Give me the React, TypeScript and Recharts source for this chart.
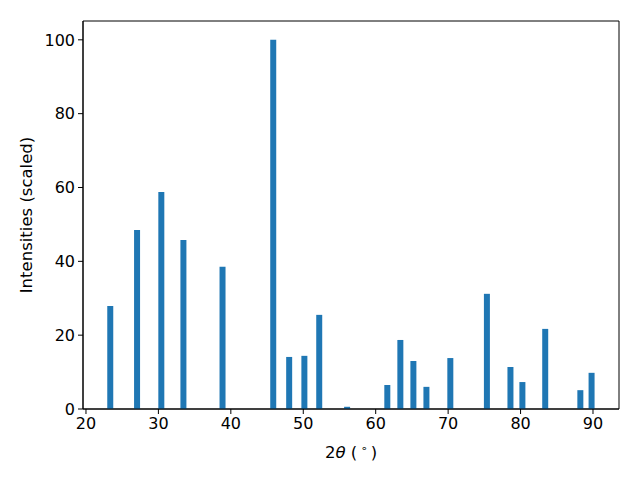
import { Bar, BarChart, ReferenceArea, XAxis, YAxis, Label } from 'recharts'

// peak positions (2θ, degrees) and scaled intensities
const twoTheta = [
  23.3, 27.0, 30.35, 33.4, 38.8, 45.8, 48.0, 50.1, 52.15, 56.0, 61.55, 63.35, 65.15, 66.95,
  70.25, 75.3, 78.55, 80.2, 83.35, 88.2, 89.75,
]
const intensity = [
  27.9, 48.5, 58.8, 45.8, 38.5, 100, 14.1, 14.4, 25.5, 0.6, 6.5, 18.7, 13.0, 6.0, 13.8, 31.2,
  11.4, 7.3, 21.7, 5.1, 9.8,
]
const xTicks = [20, 30, 40, 50, 60, 70, 80, 90]
const yTicks = [0, 20, 40, 60, 80, 100]

const X_DOMAIN: [number, number] = [19.59, 93.59]
const Y_DOMAIN: [number, number] = [0, 105.1]

const font = 'DejaVu Sans, sans-serif'
const tickStyle = { fontSize: 16, fill: '#000', fontFamily: font }

function XLabel({ viewBox }: any) {
  const cx = viewBox.x + viewBox.width / 2
  return (
    <text x={cx} y={458} textAnchor="middle" fontSize={16.5} fontFamily={font} fill="#000">
      2<tspan fontStyle="italic">θ</tspan> ({'\u2009'}
      <tspan dy={-6} fontSize={11}>∘</tspan>
      <tspan dy={6}>{'\u2009'})</tspan>
    </text>
  )
}

function YLabel({ viewBox }: any) {
  const cy = viewBox.y + viewBox.height / 2
  return (
    <text
      x={32}
      y={cy}
      transform={`rotate(-90 32 ${cy})`}
      textAnchor="middle"
      fontSize={16.5}
      fontFamily={font}
      fill="#000"
    >
      Intensities (scaled)
    </text>
  )
}

export default function App() {
  const data = twoTheta.map((t, i) => ({ t, v: intensity[i] }))
  return (
    <div style={{ position: 'absolute', left: 0, top: 0, background: '#fff' }}>
      <BarChart
        width={640}
        height={480}
        data={data}
        margin={{ top: 21, right: 21, left: 0, bottom: 0 }}
        barCategoryGap={0}
      >
        <XAxis
          type="number"
          dataKey="t"
          domain={X_DOMAIN}
          ticks={xTicks}
          allowDataOverflow
          height={71}
          tick={tickStyle}
          tickSize={5}
          tickMargin={4}
          stroke="#000"
        >
          <Label content={<XLabel />} />
        </XAxis>
        <YAxis
          type="number"
          domain={Y_DOMAIN}
          ticks={yTicks}
          allowDataOverflow
          width={83}
          tick={tickStyle}
          tickSize={5}
          tickMargin={3}
          stroke="#000"
        >
          <Label content={<YLabel />} />
        </YAxis>
        <Bar dataKey="v" fill="#1f77b4" barSize={6} isAnimationActive={false} />
        <ReferenceArea
          x1={X_DOMAIN[0]}
          x2={X_DOMAIN[1]}
          y1={Y_DOMAIN[0]}
          y2={Y_DOMAIN[1]}
          fill="none"
          stroke="#000"
          strokeWidth={1}
          ifOverflow="visible"
        />
      </BarChart>
    </div>
  )
}
